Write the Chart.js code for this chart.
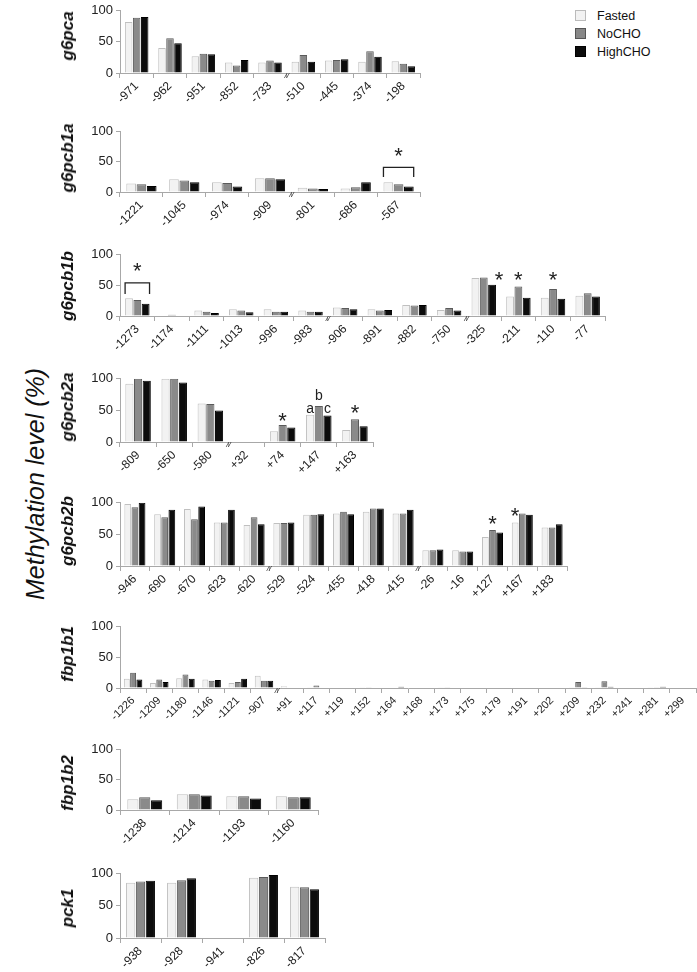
<!DOCTYPE html>
<html>
<head>
<meta charset="utf-8">
<script src="https://cdn.jsdelivr.net/npm/chart.js@4.4.1/dist/chart.umd.min.js"></script>
<style>
html, body { margin:0; padding:0; background:#fff; width:697px; height:972px; overflow:hidden; }
body { position:relative; font-family:"Liberation Sans", Arial, sans-serif; }
canvas { position:absolute; left:0; }
.gene { position:absolute; font:italic bold 17px "Liberation Sans", Arial, sans-serif; color:#111;
        transform:translate(-50%,-50%) rotate(-90deg); white-space:nowrap; }
.ylab { position:absolute; left:35px; top:484px; font:italic 25px "Liberation Sans", Arial, sans-serif; color:#111;
        transform:translate(-50%,-50%) rotate(-90deg); white-space:nowrap; }
.legend { position:absolute; left:575px; top:7px; font:12.5px "Liberation Sans", Arial, sans-serif; color:#111; }
.legend div { height:18px; line-height:18px; }
.legend span { display:inline-block; width:9px; height:9px; margin-right:11px; vertical-align:-1px; border:1px solid; }
</style>
</head>
<body>
<div class="ylab">Methylation level (%)</div>
<div class="legend">
  <div><span style="background:#f2f2f2;border-color:#bbb"></span>Fasted</div>
  <div><span style="background:#888;border-color:#555"></span>NoCHO</div>
  <div><span style="background:#0c0c0c;border-color:#000"></span>HighCHO</div>
</div>
<script>
// CpG sites and methylation (%) per condition
const g6pcaSites   = ['-971','-962','-951','-852','-733','-510','-445','-374','-198'];
const g6pcaFasted  = [82, 40, 27, 17, 17, 18, 20, 18, 19];
const g6pcaNoCHO   = [89, 56, 31, 12, 20, 29, 21, 35, 15];
const g6pcaHighCHO = [90, 48, 30, 21, 17, 18, 22, 26, 11];

const g6pcb1aSites   = ['-1221','-1045','-974','-909','-801','-686','-567'];
const g6pcb1aFasted  = [14, 21, 16, 23, 7, 6, 16];
const g6pcb1aNoCHO   = [13, 19, 15, 23, 6, 8, 13];
const g6pcb1aHighCHO = [10, 16, 9, 21, 5, 16, 9];

const g6pcb1bSites   = ['-1273','-1174','-1111','-1013','-996','-983','-906','-891','-882','-750','-325','-211','-110','-77'];
const g6pcb1bFasted  = [29, 1, 9, 11, 11, 9, 14, 11, 18, 10, 62, 32, 30, 33];
const g6pcb1bNoCHO   = [26, 2, 7, 9, 7, 7, 13, 9, 17, 13, 63, 48, 44, 37];
const g6pcb1bHighCHO = [20, 1, 5, 6, 7, 7, 11, 10, 18, 9, 51, 30, 28, 32];

const g6pcb2aSites   = ['-809','-650','-580','+32','+74','+147','+163'];
const g6pcb2aFasted  = [92, 100, 61, 0, 17, 43, 19];
const g6pcb2aNoCHO   = [100, 100, 60, 0, 27, 57, 36];
const g6pcb2aHighCHO = [97, 94, 50, 0, 23, 42, 25];

const g6pcb2bSites   = ['-946','-690','-670','-623','-620','-529','-524','-455','-418','-415','-26','-16','+127','+167','+183'];
const g6pcb2bFasted  = [98, 82, 90, 69, 65, 68, 81, 83, 86, 83, 25, 25, 46, 69, 61];
const g6pcb2bNoCHO   = [93, 77, 74, 69, 77, 68, 81, 86, 91, 83, 25, 23, 57, 83, 61];
const g6pcb2bHighCHO = [100, 89, 94, 89, 66, 69, 82, 82, 91, 89, 26, 23, 53, 81, 66];

const fbp1b1Sites   = ['-1226','-1209','-1180','-1146','-1121','-907','+91','+117','+119','+152','+164','+168','+173','+175','+179','+191','+202','+209','+232','+241','+281','+299'];
const fbp1b1Fasted  = [15, 8, 16, 14, 8, 20, 3, 0.5, 0, 0.5, 0, 0, 0.5, 0, 0, 0, 0, 0.5, 0.5, 0, 0.5, 0];
const fbp1b1NoCHO   = [25, 14, 22, 12, 10, 12, 1, 4, 0, 0.5, 1, 0, 0.5, 0, 0, 0, 0, 10, 11, 0, 0.5, 0];
const fbp1b1HighCHO = [14, 10, 15, 13, 15, 12, 0, 1, 0, 0, 2, 0, 0, 0, 0, 0, 0, 0.5, 2, 0, 2, 0];

const fbp1b2Sites   = ['-1238','-1214','-1193','-1160'];
const fbp1b2Fasted  = [18, 26, 23, 23];
const fbp1b2NoCHO   = [21, 26, 23, 21];
const fbp1b2HighCHO = [16, 24, 19, 21];

const pck1Sites   = ['-938','-928','-941','-826','-817'];
const pck1Fasted  = [86, 86, 0, 94, 80];
const pck1NoCHO   = [88, 90, 0, 95, 79];
const pck1HighCHO = [89, 93, 0, 98, 76];

// significance marks: [site index, condition index, level %, dx]
const g6pcb1aStars = [[6, 1, 66, 0]];
const g6pcb1aBrackets = [[6, 41, 25]];
const g6pcb1bStars = [[0, 1, 80, 0], [10, 2, 66, 7], [11, 1, 66, 0], [12, 1, 66, 0]];
const g6pcb1bBrackets = [[0, 54, 36]];
const g6pcb2aStars = [[4, 1, 39, 0], [6, 1, 53, 0]];
const g6pcb2aLetters = [[5, 0, 52, 'a'], [5, 1, 72, 'b'], [5, 2, 52, 'c']];
const g6pcb2bStars = [[12, 1, 73, 0], [13, 0, 86, 0]];

const condNames = ['Fasted', 'NoCHO', 'HighCHO'];
const condFill = ['#f2f2f2', '#8a8a8a', '#0c0c0c'];
const condLine = ['#c0c0c0', '#5a5a5a', '#000000'];
const FONT = '"Liberation Sans", Arial, sans-serif';

const panels = [
  { id:'g6pca',   sites:g6pcaSites,   vals:[g6pcaFasted, g6pcaNoCHO, g6pcaHighCHO],       top:7,   zero:73,  right:420, pad:7,  gy:36,  breaks:[4] },
  { id:'g6pcb1a', sites:g6pcb1aSites, vals:[g6pcb1aFasted, g6pcb1aNoCHO, g6pcb1aHighCHO], top:131, zero:192, right:420, gy:158, breaks:[3], stars:g6pcb1aStars, brackets:g6pcb1aBrackets },
  { id:'g6pcb1b', sites:g6pcb1bSites, vals:[g6pcb1bFasted, g6pcb1bNoCHO, g6pcb1bHighCHO], top:254, zero:316, right:605, gy:286, breaks:[5, 9], stars:g6pcb1bStars, brackets:g6pcb1bBrackets },
  { id:'g6pcb2a', sites:g6pcb2aSites, vals:[g6pcb2aFasted, g6pcb2aNoCHO, g6pcb2aHighCHO], top:378, zero:442, right:373, gy:407, breaks:[2], stars:g6pcb2aStars, letters:g6pcb2aLetters },
  { id:'g6pcb2b', sites:g6pcb2bSites, vals:[g6pcb2bFasted, g6pcb2bNoCHO, g6pcb2bHighCHO], top:502, zero:566, right:567, gy:531, breaks:[4, 9], stars:g6pcb2bStars },
  { id:'fbp1b1',  sites:fbp1b1Sites,  vals:[fbp1b1Fasted, fbp1b1NoCHO, fbp1b1HighCHO],    top:626, zero:688, right:696, gy:654, breaks:[5], small:true },
  { id:'fbp1b2',  sites:fbp1b2Sites,  vals:[fbp1b2Fasted, fbp1b2NoCHO, fbp1b2HighCHO],    top:749, zero:810, right:318, gy:783 },
  { id:'pck1',    sites:pck1Sites,    vals:[pck1Fasted, pck1NoCHO, pck1HighCHO],          top:873, zero:938, right:325, gy:908 }
];

const marksPlugin = {
  id: 'marks',
  afterDatasetsDraw(chart) {
    const p = panels.find(q => q.id === chart.canvas.id);
    const ctx = chart.ctx, xs = chart.scales.x, ys = chart.scales.y;
    const bar = (i, d) => chart.getDatasetMeta(d).data[i];
    ctx.save();
    ctx.fillStyle = '#222';
    ctx.strokeStyle = '#222';
    ctx.textAlign = 'center';
    (p.breaks || []).forEach(i => {
      const bx = (xs.getPixelForValue(i) + xs.getPixelForValue(i + 1)) / 2;
      ctx.font = 'italic 8px ' + FONT;
      ctx.textBaseline = 'middle';
      ctx.fillText('//', bx, ys.bottom + 3);
    });
    (p.brackets || []).forEach(([i, hi, lo]) => {
      const a = bar(i, 0), b = bar(i, 2);
      const x0 = a.x - a.width / 2, x1 = b.x + b.width / 2;
      ctx.lineWidth = 1.3;
      ctx.beginPath();
      ctx.moveTo(x0, ys.getPixelForValue(lo));
      ctx.lineTo(x0, ys.getPixelForValue(hi));
      ctx.lineTo(x1, ys.getPixelForValue(hi));
      ctx.lineTo(x1, ys.getPixelForValue(lo));
      ctx.stroke();
    });
    (p.stars || []).forEach(([i, d, v, dx]) => {
      const el = bar(i, d);
      ctx.font = '22px ' + FONT;
      ctx.textBaseline = 'top';
      ctx.fillText('*', el.x + dx, ys.getPixelForValue(v) - 6);
    });
    (p.letters || []).forEach(([i, d, v, t]) => {
      const el = bar(i, d);
      ctx.font = '14px ' + FONT;
      ctx.textBaseline = 'middle';
      ctx.fillText(t, el.x, ys.getPixelForValue(v));
    });
    ctx.restore();
  }
};

panels.forEach(p => {
  const pad = p.pad || 10;
  const cv = document.createElement('canvas');
  cv.id = p.id;
  cv.width = 697;
  cv.height = (p.zero - p.top) + pad + 45;
  cv.style.top = (p.top - pad) + 'px';
  cv.style.width = cv.width + 'px';
  cv.style.height = cv.height + 'px';
  document.body.appendChild(cv);

  const g = document.createElement('div');
  g.className = 'gene';
  g.textContent = p.id;
  g.style.left = '68px';
  g.style.top = p.gy + 'px';
  document.body.appendChild(g);

  new Chart(cv, {
    type: 'bar',
    data: {
      labels: p.sites,
      datasets: p.vals.map((v, k) => ({
        label: condNames[k],
        data: v,
        backgroundColor: condFill[k],
        borderColor: condLine[k],
        borderWidth: 1,
        categoryPercentage: 0.72,
        barPercentage: 0.94
      }))
    },
    options: {
      responsive: false,
      animation: false,
      layout: { padding: { top: pad, right: 697 - p.right, left: 0, bottom: 0 } },
      plugins: { legend: { display: false }, tooltip: { enabled: false } },
      scales: {
        x: {
          grid: { offset: true, drawOnChartArea: false, tickLength: 5, color: '#a8a8a8' },
          border: { color: '#a8a8a8' },
          ticks: { autoSkip: false, minRotation: 45, maxRotation: 45, padding: 1, color: '#222',
                   font: { family: FONT, size: p.small ? 11 : 12 } },
          afterFit(s) { s.height = 45; }
        },
        y: {
          min: 0, max: 100,
          grid: { drawOnChartArea: false, tickLength: 4, color: '#a8a8a8' },
          border: { color: '#a8a8a8' },
          ticks: { stepSize: 50, padding: 3, color: '#222', font: { family: FONT, size: 13 } },
          afterFit(s) { s.width = 120; }
        }
      }
    },
    plugins: [marksPlugin]
  });
});
</script>
</body>
</html>
